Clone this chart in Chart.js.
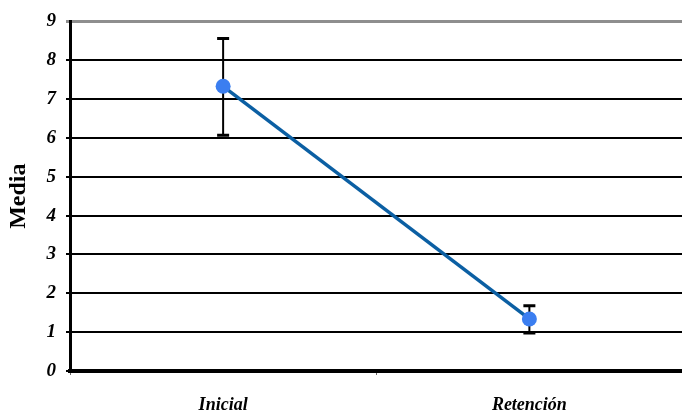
<!DOCTYPE html>
<html>
<head>
<meta charset="utf-8">
<script src="https://cdn.jsdelivr.net/npm/chart.js@4"></script>
<style>
  html, body { margin: 0; padding: 0; background: #fff; overflow: hidden; }
  #c { display: block; }
</style>
</head>
<body>
<canvas id="c" width="690" height="414"></canvas>
<script>
// Phases and mean scores with their error margins
const categories = ['Inicial', 'Retención'];
const means = [7.33, 1.34];
const errUp = [1.23, 0.34];
const errDown = [1.26, 0.36];
const yTicks = [0, 1, 2, 3, 4, 5, 6, 7, 8, 9];

// Vertical error bars with flat caps, drawn under the line and points
const errorBars = {
  id: 'errorBars',
  beforeDatasetsDraw(chart) {
    const { ctx, scales: { x, y } } = chart;
    ctx.save();
    ctx.strokeStyle = '#000';
    categories.forEach((c, i) => {
      const px = x.getPixelForValue(i);
      const top = y.getPixelForValue(means[i] + errUp[i]);
      const bot = y.getPixelForValue(means[i] - errDown[i]);
      ctx.lineWidth = 2;
      ctx.beginPath();
      ctx.moveTo(px, top);
      ctx.lineTo(px, bot);
      ctx.stroke();
      ctx.lineWidth = 3;
      ctx.beginPath();
      ctx.moveTo(px - 6, top);
      ctx.lineTo(px + 6, top);
      ctx.moveTo(px - 6, bot);
      ctx.lineTo(px + 6, bot);
      ctx.stroke();
    });
    ctx.restore();
  }
};

new Chart(document.getElementById('c'), {
  type: 'line',
  data: {
    labels: categories,
    datasets: [{
      data: means,
      borderColor: '#0b5fa3',
      borderWidth: 3.5,
      pointBackgroundColor: '#3b7ef0',
      pointBorderWidth: 0,
      pointRadius: 7.5,
      tension: 0
    }]
  },
  options: {
    responsive: false,
    animation: false,
    devicePixelRatio: 1,
    layout: { padding: { top: 18, right: 0, left: 0, bottom: 0 } },
    plugins: { legend: { display: false }, tooltip: { enabled: false } },
    scales: {
      x: {
        offset: true,
        border: { display: true, color: '#000', width: 4 },
        grid: {
          offset: true,
          drawOnChartArea: false,
          drawTicks: true,
          tickLength: 4,
          color: '#666',
          lineWidth: 1
        },
        ticks: {
          padding: 20,
          color: '#000',
          font: { family: 'Liberation Serif', size: 18, style: 'italic', weight: 'bold' }
        },
        afterFit(s) { s.height = 43; }
      },
      y: {
        min: 0,
        max: 9,
        afterBuildTicks(s) { s.ticks = yTicks.map(v => ({ value: v })); },
        border: { display: true, color: '#000', width: 3 },
        grid: {
          drawTicks: true,
          tickLength: 4,
          color: ctx => (ctx.tick && ctx.tick.value === 9 ? '#8e8e8e' : '#000'),
          lineWidth: ctx => (ctx.tick && ctx.tick.value === 9 ? 3 : 2)
        },
        ticks: {
          padding: 10,
          color: '#000',
          font: { family: 'Liberation Serif', size: 19, style: 'italic', weight: 'bold' }
        },
        title: {
          display: true,
          text: 'Media',
          color: '#000',
          padding: { top: 4, bottom: 0 },
          font: { family: 'Liberation Serif', size: 24, weight: 'bold' }
        },
        afterFit(s) { s.width = 70; }
      }
    }
  },
  plugins: [errorBars]
});
</script>
</body>
</html>
